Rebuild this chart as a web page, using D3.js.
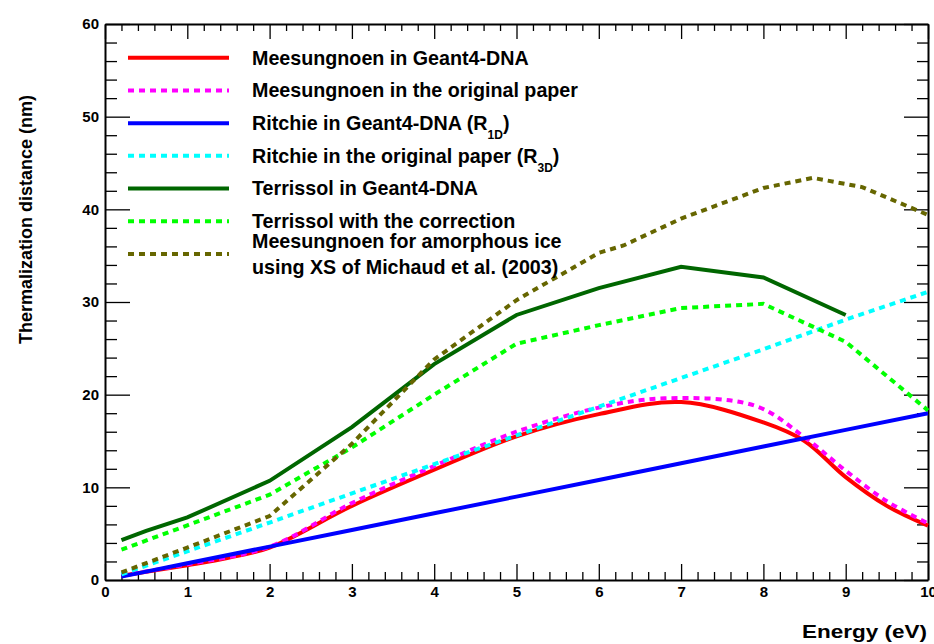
<!DOCTYPE html>
<html>
<head>
<meta charset="utf-8">
<script src="https://cdn.jsdelivr.net/npm/d3@7"></script>
<style>
  body { margin: 0; background: #fff; }
  text { font-family: 'Liberation Sans', Arial, sans-serif; font-weight: bold; fill: #000; }
</style>
</head>
<body>
<div id="chart"></div>
<script>
// Series data
const meesG4E = [0.2, 1, 1.5, 2, 3, 4, 5, 6, 7, 8, 8.5, 9, 9.5, 10];
const meesG4 = [0.46, 1.6, 2.4, 3.5, 8.0, 11.9, 15.5, 17.9, 19.2, 17.0, 15.0, 11.1, 8.0, 5.86];

const meesOrigE = [0.2, 1, 2, 3, 4, 5, 6, 6.8, 7.9, 8.5, 9, 9.5, 10];
const meesOrig = [0.5, 1.7, 3.6, 8.3, 12.3, 16.0, 18.6, 19.6, 18.8, 15.4, 11.8, 8.5, 6.1];

const ritchieE = [0.2, 1, 2, 3, 4, 5, 6, 7, 8, 9, 10];
const ritchieG4 = [0.36, 1.8, 3.6, 5.4, 7.2, 9.0, 10.8, 12.6, 14.4, 16.2, 18.0];
const ritchieOrig = [0.62, 3.1, 6.2, 9.35, 12.5, 15.6, 18.7, 21.8, 24.9, 28.1, 31.1];

const terrG4E = [0.2, 0.5, 1, 2, 3, 4, 5, 6, 7, 8, 9];
const terrG4 = [4.3, 5.3, 6.75, 10.7, 16.5, 23.3, 28.6, 31.5, 33.8, 32.65, 28.6];

const terrCorrE = [0.2, 1, 2, 3, 4, 5, 6, 7, 8, 9, 10];
const terrCorr = [3.27, 5.9, 9.2, 14.3, 20.0, 25.5, 27.5, 29.35, 29.8, 25.7, 18.3];

const meesIceE = [0.2, 1, 2, 3, 4, 5, 6, 6.3, 7, 8, 8.6, 9.2, 10];
const meesIce = [0.82, 3.5, 6.9, 14.7, 23.8, 30.2, 35.3, 36.1, 39.0, 42.3, 43.4, 42.4, 39.4];

const xTicks = [0, 1, 2, 3, 4, 5, 6, 7, 8, 9, 10];
const yTicks = [0, 10, 20, 30, 40, 50, 60];

const series = [
  { label: ['Meesungnoen in Geant4-DNA'], xs: meesG4E, ys: meesG4, color: '#ff0000', dotted: false, smooth: true },
  { label: ['Meesungnoen in the original paper'], xs: meesOrigE, ys: meesOrig, color: '#ff00ff', dotted: true, smooth: true },
  { label: ['Ritchie in Geant4-DNA (R', '1D', ')'], xs: ritchieE, ys: ritchieG4, color: '#0000ff', dotted: false },
  { label: ['Ritchie in the original paper (R', '3D', ')'], xs: ritchieE, ys: ritchieOrig, color: '#00ffff', dotted: true },
  { label: ['Terrissol in Geant4-DNA'], xs: terrG4E, ys: terrG4, color: '#006600', dotted: false },
  { label: ['Terrissol with the correction'], xs: terrCorrE, ys: terrCorr, color: '#00ff00', dotted: true },
  { label: ['Meesungnoen for amorphous ice', 'using XS of Michaud et al. (2003)'], xs: meesIceE, ys: meesIce, color: '#666600', dotted: true, twoLines: true }
];

const W = 934, H = 644;
const margin = { top: 24, right: 6, bottom: 64, left: 105 };
const width = W - margin.left - margin.right;
const height = H - margin.top - margin.bottom;

const svg = d3.select('#chart').append('svg')
  .attr('width', W).attr('height', H);

const g = svg.append('g').attr('transform', `translate(${margin.left},${margin.top})`);

const x = d3.scaleLinear().domain([0, 10]).range([0, width]);
const y = d3.scaleLinear().domain([0, 60]).range([height, 0]);

const xMinor = d3.range(0, 10.001, 0.2).filter(v => Math.abs(v - Math.round(v)) > 1e-6);
const yMinor = d3.range(0, 60.001, 2).filter(v => v % 10 !== 0);

// minor ticks on all four sides (ticks point inward)
function minorAxis(axisFn, scale, vals, size, tx, ty) {
  const a = g.append('g').attr('transform', `translate(${tx},${ty})`)
    .call(axisFn(scale).tickValues(vals).tickSize(-size).tickSizeOuter(0).tickFormat(''));
  a.select('.domain').remove();
  a.selectAll('line').attr('stroke', '#000').attr('stroke-width', 1.3);
}
minorAxis(d3.axisBottom, x, xMinor, 8, 0, height);
minorAxis(d3.axisTop, x, xMinor, 7, 0, 0);
minorAxis(d3.axisLeft, y, yMinor, 12, 0, 0);
minorAxis(d3.axisRight, y, yMinor, 11, width, 0);

const xAxis = g.append('g').attr('transform', `translate(0,${height})`)
  .call(d3.axisBottom(x).tickValues(xTicks).tickSize(-16).tickSizeOuter(0).tickFormat(d3.format('d')));
const xTop = g.append('g')
  .call(d3.axisTop(x).tickValues(xTicks).tickSize(-15).tickSizeOuter(0).tickFormat(''));
const yAxis = g.append('g')
  .call(d3.axisLeft(y).tickValues(yTicks).tickSize(-25).tickSizeOuter(0).tickFormat(d3.format('d')));
const yRight = g.append('g').attr('transform', `translate(${width},0)`)
  .call(d3.axisRight(y).tickValues(yTicks).tickSize(-24).tickSizeOuter(0).tickFormat(''));

[xAxis, xTop, yAxis, yRight].forEach(a => {
  a.selectAll('line').attr('stroke', '#000').attr('stroke-width', 1.3);
  a.select('.domain').attr('stroke', '#000').attr('stroke-width', 2);
  a.selectAll('text').style('font-size', '15px').style('font-family', null).attr('fill', '#000');
});
xAxis.selectAll('text').attr('dy', 0).attr('y', 17);
yAxis.selectAll('text').attr('x', -6);

// data lines
const lineLinear = d3.line().x(d => x(d[0])).y(d => y(d[1]));
const lineSmooth = d3.line().x(d => x(d[0])).y(d => y(d[1])).curve(d3.curveCatmullRom.alpha(0.5));

series.forEach(s => {
  const pts = s.xs.map((e, i) => [e, s.ys[i]]);
  g.append('path')
    .attr('d', (s.smooth ? lineSmooth : lineLinear)(pts))
    .attr('fill', 'none')
    .attr('stroke', s.color)
    .attr('stroke-width', 4)
    .attr('stroke-dasharray', s.dotted ? '6,5' : null);
});

// legend
const legendRow = d3.scaleLinear().domain([0, 6]).range([57.7, 254]);
const legend = svg.append('g');
const fs = '19.7px';
series.forEach((s, i) => {
  const ly = legendRow(i);
  legend.append('line')
    .attr('x1', 128).attr('x2', 229).attr('y1', ly).attr('y2', ly)
    .attr('stroke', s.color).attr('stroke-width', 4)
    .attr('stroke-dasharray', s.dotted ? '6,5' : null);
  if (s.twoLines) {
    legend.append('text').attr('x', 252).attr('y', ly - 5.7).style('font-size', fs).text(s.label[0]);
    legend.append('text').attr('x', 252).attr('y', ly + 20.3).style('font-size', fs).text(s.label[1]);
  } else {
    const t = legend.append('text').attr('x', 252).attr('y', ly + 6.8).style('font-size', fs);
    t.append('tspan').text(s.label[0]);
    if (s.label.length > 1) {
      t.append('tspan').attr('dy', 9).style('font-size', '12px').text(s.label[1]);
      t.append('tspan').attr('dy', -9).text(s.label[2]);
    }
  }
});

// axis titles
svg.append('text')
  .attr('text-anchor', 'end')
  .attr('x', 927).attr('y', 638)
  .attr('textLength', 125)
  .attr('lengthAdjust', 'spacingAndGlyphs')
  .style('font-size', '18.5px')
  .text('Energy (eV)');

svg.append('text')
  .attr('text-anchor', 'end')
  .attr('transform', 'translate(31.5,95) rotate(-90)')
  .style('font-size', '18px')
  .text('Thermalization distance (nm)');
</script>
</body>
</html>
